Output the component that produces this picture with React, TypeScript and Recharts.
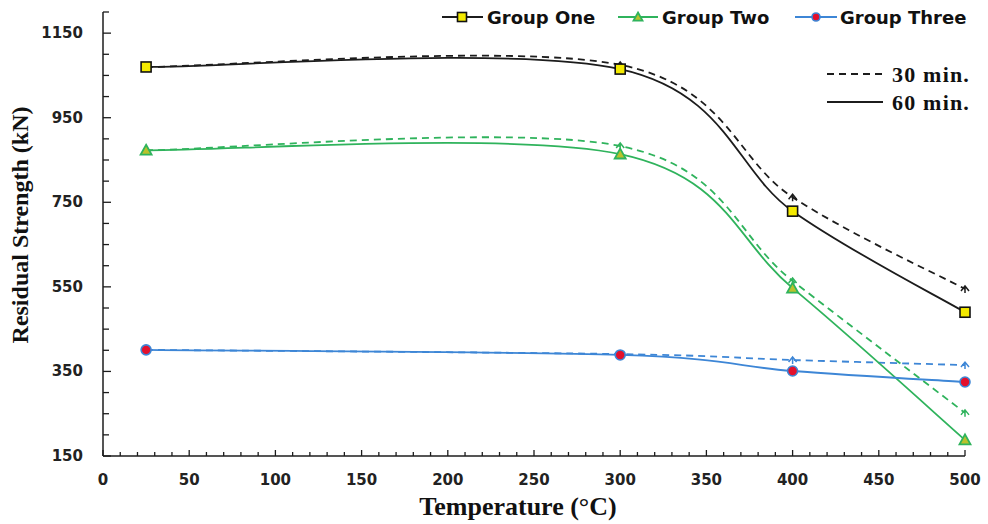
import { LineChart, Line, XAxis, YAxis } from "recharts";

// temperatures (°C) where the specimens were tested
const temps = [25, 300, 400, 500];

// residual strength (kN)
const groupOne30 = [1070, 1075, 762, 545];
const groupOne60 = [1070, 1065, 729, 490];
const groupTwo30 = [873, 883, 564, 252];
const groupTwo60 = [873, 864, 547, 188];
const groupThree30 = [401, 391, 377, 365];
const groupThree60 = [401, 389, 351, 325];

const yLabels = [150, 350, 550, 750, 950, 1150];
const xLabels = [0, 50, 100, 150, 200, 250, 300, 350, 400, 450, 500];
const yTicks = Array.from({ length: 22 }, (_, i) => 150 + i * 50);
const xTicks = Array.from({ length: 51 }, (_, i) => i * 10);

const BLACK = "#1c1c1c";
const GREEN = "#2fb35c";
const BLUE = "#3d86d6";
const SANS = "'DejaVu Sans', sans-serif";
const SERIF = "'Liberation Serif', 'Times New Roman', serif";

const data = temps.map((t, i) => ({
  t,
  g1a: groupOne30[i],
  g1b: groupOne60[i],
  g2a: groupTwo30[i],
  g2b: groupTwo60[i],
  g3a: groupThree30[i],
  g3b: groupThree60[i],
}));

// catmull-rom style smoothing, close to the spreadsheet "smoothed line"
const smooth = (ctx: any) => {
  let pts: number[][] = [];
  const k = 1 / 6;
  return {
    areaStart() {},
    areaEnd() {},
    lineStart() {
      pts = [];
    },
    point(x: number, y: number) {
      pts.push([+x, +y]);
    },
    lineEnd() {
      if (!pts.length) return;
      ctx.moveTo(pts[0][0], pts[0][1]);
      for (let i = 0; i < pts.length - 1; i++) {
        const p0 = pts[i - 1] || pts[i];
        const p1 = pts[i];
        const p2 = pts[i + 1];
        const p3 = pts[i + 2] || p2;
        ctx.bezierCurveTo(
          p1[0] + (p2[0] - p0[0]) * k,
          p1[1] + (p2[1] - p0[1]) * k,
          p2[0] - (p3[0] - p1[0]) * k,
          p2[1] - (p3[1] - p1[1]) * k,
          p2[0],
          p2[1]
        );
      }
    },
  };
};

const Square = ({ cx, cy, s = 10 }: any) => (
  <rect x={cx - s / 2} y={cy - s / 2} width={s} height={s} fill="#f4ea00" stroke="#111" strokeWidth={1.6} />
);
const Tri = ({ cx, cy, s = 11 }: any) => (
  <path
    d={`M${cx},${cy - s * 0.5} L${cx + s / 2},${cy + s * 0.4} L${cx - s / 2},${cy + s * 0.4} Z`}
    fill="#b9c22c"
    stroke={GREEN}
    strokeWidth={1.8}
  />
);
const Dot = ({ cx, cy, r = 5 }: any) => (
  <circle cx={cx} cy={cy} r={r} fill="#e3102c" stroke={BLUE} strokeWidth={1.6} />
);

const caret = (color: string) => (props: any) => {
  const { cx, cy, index } = props;
  if (index === 0) return <g key={`c${index}`} />;
  return (
    <path
      key={`c${index}`}
      d={`M${cx - 4},${cy + 2} L${cx},${cy - 3} L${cx + 4},${cy + 2} M${cx},${cy - 3} L${cx},${cy + 4}`}
      fill="none"
      stroke={color}
      strokeWidth={1.5}
    />
  );
};

const YTick = ({ x, y, payload }: any) => {
  const v = payload.value;
  const major = yLabels.includes(v);
  return (
    <g>
      <line x1={x} x2={x + (major ? 8 : 6)} y1={y} y2={y} stroke={BLACK} strokeWidth={1.3} />
      {major && (
        <text x={x - 20} y={y} textAnchor="end" dominantBaseline="central" fontFamily={SANS} fontWeight="bold" fontSize={15} fill="#222">
          {v}
        </text>
      )}
    </g>
  );
};

const XTick = ({ x, y, payload }: any) => {
  const v = payload.value;
  const major = xLabels.includes(v);
  return (
    <g>
      <line x1={x} x2={x} y1={y} y2={y - (major ? 6 : 4)} stroke={BLACK} strokeWidth={1.3} />
      {major && (
        <text x={x} y={y + 24} textAnchor="middle" dominantBaseline="central" fontFamily={SANS} fontWeight="bold" fontSize={15} fill="#222">
          {v}
        </text>
      )}
    </g>
  );
};

const lineStyle = { strokeWidth: 1.8 };

export default function App() {
  return (
    <div style={{ position: "absolute", left: 0, top: 0, width: 988, height: 524, background: "#fff" }}>
      <LineChart width={988} height={524} data={data} margin={{ top: 12, right: 23, bottom: 0, left: 0 }}>
        <XAxis
          dataKey="t"
          type="number"
          domain={[0, 500]}
          ticks={xTicks}
          interval={0}
          height={68}
          tickSize={0}
          tickMargin={0}
          tickLine={false}
          axisLine={{ stroke: BLACK, strokeWidth: 1.5 }}
          tick={<XTick />}
        />
        <YAxis
          type="number"
          domain={[150, 1200]}
          ticks={yTicks}
          interval={0}
          width={103}
          tickSize={0}
          tickMargin={0}
          tickLine={false}
          axisLine={{ stroke: BLACK, strokeWidth: 1.5 }}
          tick={<YTick />}
        />
        <Line dataKey="g1a" type={smooth as any} stroke={BLACK} strokeDasharray="7 5" {...lineStyle} dot={caret(BLACK)} isAnimationActive={false} />
        <Line dataKey="g2a" type={smooth as any} stroke={GREEN} strokeDasharray="7 5" {...lineStyle} dot={caret(GREEN)} isAnimationActive={false} />
        <Line dataKey="g3a" type={smooth as any} stroke={BLUE} strokeDasharray="7 5" {...lineStyle} dot={caret(BLUE)} isAnimationActive={false} />
        <Line
          dataKey="g1b"
          type={smooth as any}
          stroke={BLACK}
          {...lineStyle}
          dot={(p: any) => <Square key={`s${p.index}`} cx={p.cx} cy={p.cy} />}
          isAnimationActive={false}
        />
        <Line
          dataKey="g2b"
          type={smooth as any}
          stroke={GREEN}
          {...lineStyle}
          dot={(p: any) => <Tri key={`t${p.index}`} cx={p.cx} cy={p.cy} />}
          isAnimationActive={false}
        />
        <Line
          dataKey="g3b"
          type={smooth as any}
          stroke={BLUE}
          {...lineStyle}
          dot={(p: any) => <Dot key={`d${p.index}`} cx={p.cx} cy={p.cy} />}
          isAnimationActive={false}
        />
      </LineChart>

      {/* legends and axis titles */}
      <svg width={988} height={524} style={{ position: "absolute", left: 0, top: 0, pointerEvents: "none" }}>
        <line x1={442} x2={483} y1={17} y2={17} stroke={BLACK} strokeWidth={1.8} />
        <Square cx={462} cy={17} s={9} />
        <text x={487} y={17} dominantBaseline="central" fontFamily={SANS} fontWeight="bold" fontSize={18} fill="#111">
          Group One
        </text>
        <line x1={618} x2={658} y1={17} y2={17} stroke={GREEN} strokeWidth={1.8} />
        <Tri cx={638} cy={17} s={9} />
        <text x={662} y={17} dominantBaseline="central" fontFamily={SANS} fontWeight="bold" fontSize={18} fill="#111">
          Group Two
        </text>
        <line x1={795} x2={837} y1={17} y2={17} stroke={BLUE} strokeWidth={1.8} />
        <Dot cx={816} cy={17} r={4} />
        <text x={840} y={17} dominantBaseline="central" fontFamily={SANS} fontWeight="bold" fontSize={18} fill="#111">
          Group Three
        </text>

        <line x1={827} x2={883} y1={74} y2={74} stroke={BLACK} strokeWidth={1.8} strokeDasharray="7 5" />
        <text x={892} y={74} dominantBaseline="central" fontFamily={SERIF} fontWeight="bold" fontSize={22} letterSpacing={1.2} fill="#111">
          30 min.
        </text>
        <line x1={827} x2={883} y1={102} y2={102} stroke={BLACK} strokeWidth={1.8} />
        <text x={892} y={102} dominantBaseline="central" fontFamily={SERIF} fontWeight="bold" fontSize={22} letterSpacing={1.2} fill="#111">
          60 min.
        </text>

        <text x={518} y={506} textAnchor="middle" dominantBaseline="central" fontFamily={SERIF} fontWeight="bold" fontSize={26} fill="#111">
          Temperature (°C)
        </text>
        <text
          x={20}
          y={225}
          transform="rotate(-90 20 225)"
          textAnchor="middle"
          dominantBaseline="central"
          fontFamily={SERIF}
          fontWeight="bold"
          fontSize={24}
          fill="#111"
        >
          Residual Strength (kN)
        </text>
      </svg>
    </div>
  );
}
